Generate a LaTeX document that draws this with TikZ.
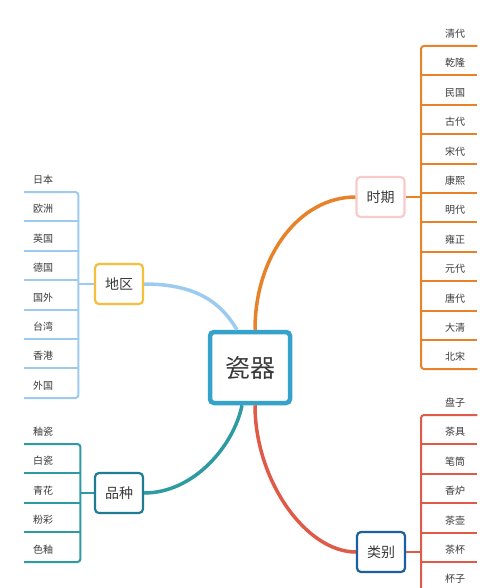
\documentclass[tikz,border=0pt]{standalone}
\usepackage{fontspec}
\setmainfont{Noto Sans CJK SC}
\usepackage{xcolor}
\usepackage{tikz}
\definecolor{azul}{HTML}{35A2CC}
\definecolor{celeste}{HTML}{9DCBF0}
\definecolor{ambar}{HTML}{F5BE3C}
\definecolor{naranja}{HTML}{E8822A}
\definecolor{rosa}{HTML}{F8CACA}
\definecolor{verdeazul}{HTML}{2E9BA3}
\definecolor{petroleo}{HTML}{1F7D91}
\definecolor{coral}{HTML}{E05A48}
\definecolor{cobalto}{HTML}{1D5E9E}
\definecolor{tinta}{HTML}{3A3A3A}
\tikzset{
  raiz/.style={draw=azul, line width=4.5pt, fill=white, rounded corners=4pt,
               minimum width=80pt, minimum height=71pt, text=tinta,
               font=\fontsize{25}{29}\selectfont},
  rama/.style={line width=2.2pt, fill=white, rounded corners=4pt,
               minimum width=48pt, minimum height=40pt, text=tinta,
               font=\fontsize{14}{16}\selectfont},
  hojaiz/.style={anchor=south west, inner xsep=9pt, inner ysep=0pt, text width=36pt,
                 minimum height=24pt, align=left, text=tinta, font=\fontsize{10}{12}\selectfont},
  hojade/.style={anchor=south west, inner xsep=12pt, inner ysep=0pt, text width=32pt,
                 minimum height=24pt, align=right, text=tinta, font=\fontsize{10}{12}\selectfont},
  enlace/.style={line width=3.5pt},
  linea/.style={line width=2pt, rounded corners=3pt},
}

\begin{document}
\begin{tikzpicture}[x=1pt, y=-1pt]
  \useasboundingbox (0,0) rectangle (500,588);
  \clip (0,0) rectangle (500,588);
  \fill[white] (0,0) rectangle (500,588);

  % centro y ramas
  \node[raiz] (C) at (250,367.5) {瓷器};
  \node[rama, draw=ambar] (DQ) at (119,284) {地区};
  \node[rama, draw=rosa] (SQ) at (380.5,197) {时期};
  \node[rama, draw=petroleo] (PZ) at (119,493) {品种};
  \node[rama, draw=cobalto] (LB) at (381,552) {类别};

  \draw[enlace, celeste] (DQ.east) .. controls +(55,0) and +(-15,-25) .. ([xshift=-13pt]C.north);
  \draw[enlace, naranja] ([xshift=5pt]C.north) .. controls +(0,-75) and +(-55,0) .. (SQ.west);
  \draw[enlace, verdeazul] (PZ.east) .. controls +(50,0) and +(-8,40) .. ([xshift=-8pt]C.south);
  \draw[enlace, coral] ([xshift=5pt]C.south) .. controls +(0,75) and +(-50,0) .. (LB.west);

  % hojas: 地区
  \foreach \t [count=\i] in {日本,欧洲,英国,德国,国外,台湾,香港,外国}
    \node[hojaiz] (dq\i) at (24,{round(192+29.4*(\i-1))}) {\t};
  \draw[linea, celeste] (dq1.south west) -- (dq1.south east) -- (dq8.south east) -- (dq8.south west);
  \foreach \i in {2,...,7} \draw[linea, celeste] (dq\i.south west) -- (dq\i.south east);
  \draw[linea, celeste] (DQ.west) -- (DQ.west -| dq1.south east);

  % hojas: 品种
  \foreach \t [count=\i] in {釉瓷,白瓷,青花,粉彩,色釉}
    \node[hojaiz, text width=38pt] (pz\i) at (24,{round(444+29.4*(\i-1))}) {\t};
  \draw[linea, verdeazul] (pz1.south west) -- (pz1.south east) -- (pz5.south east) -- (pz5.south west);
  \foreach \i in {2,...,4} \draw[linea, verdeazul] (pz\i.south west) -- (pz\i.south east);
  \draw[linea, verdeazul] (PZ.west) -- (PZ.west -| pz1.south east);

  % hojas: 时期
  \foreach \t [count=\i] in {清代,乾隆,民国,古代,宋代,康熙,明代,雍正,元代,唐代,大清,北宋}
    \node[hojade] (sq\i) at (421,{round(46+29.4*(\i-1))}) {\t};
  \draw[linea, naranja] (sq1.south east) -- (sq1.south west) -- (sq12.south west) -- (sq12.south east);
  \foreach \i in {2,...,11} \draw[linea, naranja] (sq\i.south west) -- (sq\i.south east);
  \draw[linea, naranja] (SQ.east) -- (SQ.east -| sq1.south west);

  % hojas: 类别
  \foreach \t [count=\i] in {盘子,茶具,笔筒,香炉,茶壶,茶杯,杯子}
    \node[hojade] (lb\i) at (421,{round(415+29.4*(\i-1))}) {\t};
  \draw[linea, coral] (lb1.south east) -- (lb1.south west) -- (lb7.south west) -- (lb7.south east);
  \foreach \i in {2,...,6} \draw[linea, coral] (lb\i.south west) -- (lb\i.south east);
  \draw[linea, coral] (LB.east) -- (LB.east -| lb1.south west);
\end{tikzpicture}
\end{document}
